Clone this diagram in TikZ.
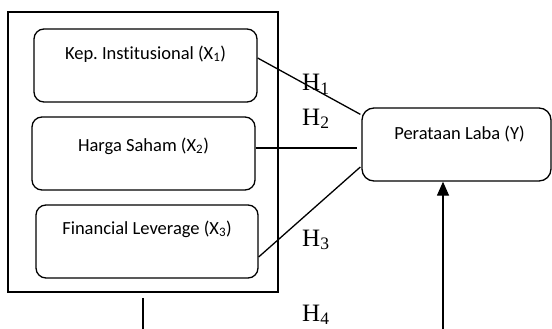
\documentclass[tikz,border=0pt]{standalone}
\usepackage{fontspec}
\setmainfont{Carlito}[RawFeature=-liga]
\newfontfamily\hfont{Liberation Serif}
\usetikzlibrary{arrows.meta,calc}
\frenchspacing
\tikzset{
  varbox/.style={draw, rounded corners=10pt, line width=1.3pt, minimum width=223pt, minimum height=73pt, inner sep=0pt},
  boxtext/.style={anchor=base, inner sep=0pt, font=\fontsize{18.5}{21}\selectfont},
  hlabel/.style={anchor=base west, inner sep=0pt, font=\hfont\fontsize{25}{28}\selectfont},
  link/.style={line width=1.3pt},
}
\begin{document}
\begin{tikzpicture}[x=1pt,y=-1pt]
\useasboundingbox (0,0) rectangle (552,329);
\node[draw, line width=1.5pt, minimum width=270pt, minimum height=280pt, inner sep=0pt] (outer) at (143,152) {};
\node[varbox, label={[boxtext,yshift=-31pt]north:Kep.\ Institusional (X\textsubscript{1})}] (b1) at (145.5,65.5) {};
\node[varbox, label={[boxtext,yshift=-35pt]north:Harga Saham (X\textsubscript{2})}] (b2) at (143.5,153.5) {};
\node[varbox, minimum width=222pt, label={[boxtext,yshift=-30pt]north:Financial Leverage (X\textsubscript{3})}] (b3) at (147,241.5) {};
\node[varbox, rounded corners=12pt, minimum width=189pt, label={[boxtext,yshift=-32pt,xshift=3pt]north:Perataan Laba (Y)}] (Y) at (456.5,144.5) {};
\draw[link] ($(b1.east)+(0,-7.5)$) -- ($(Y.north west)+(-1,7)$);
\draw[link, shorten >=4pt] ($(b2.east)+(0,-5.5)$) coordinate (l2s) -- (l2s -| Y.west);
\draw[link] ($(b3.east)+(0,15.5)$) -- ($(Y.west)+(-1,22.5)$);
\node[hlabel] (h1) at (302,91) {H\textsubscript{1}};
\node[hlabel] (h2) at (302,125) {H\textsubscript{2}};
\node[hlabel] (h3) at (302,246) {H\textsubscript{3}};
\node[hlabel] (h4) at (302,321) {H\textsubscript{4}};
\coordinate (stub) at (143,329);
\draw[link] (outer.south -| stub) ++(0,5) -- (stub);
\coordinate (foot) at (443,329);
\draw[link, -{Triangle[width=12pt,length=14pt]}] (foot) -- (foot |- Y.south);
\end{tikzpicture}
\end{document}
